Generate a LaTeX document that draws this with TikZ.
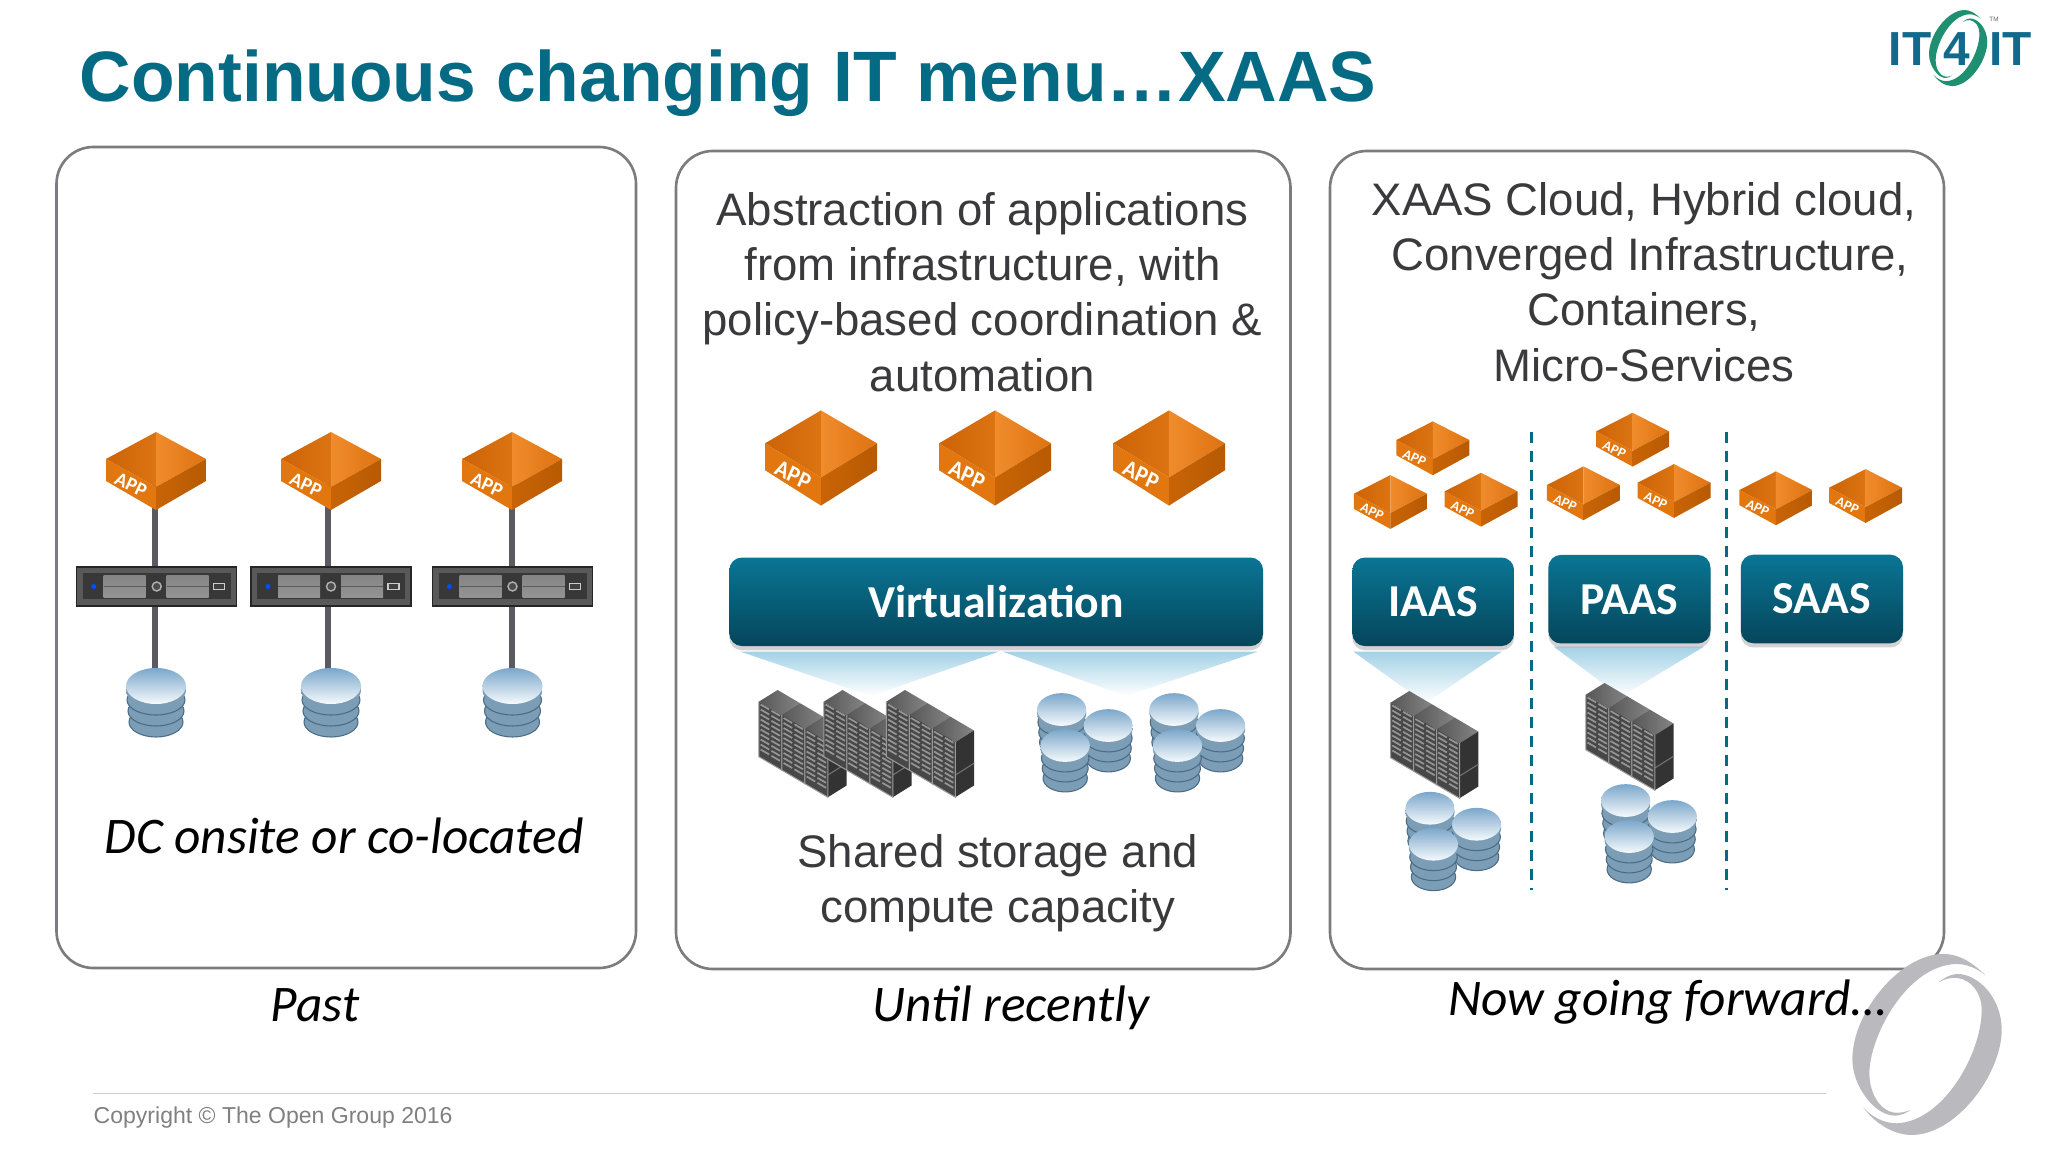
\documentclass[tikz,border=0pt]{standalone}
\usepackage{fontspec}
\setmainfont{Liberation Sans}
\newfontfamily\calfont{Carlito}
\usetikzlibrary{shadows}
\definecolor{titleteal}{HTML}{056A84}
\definecolor{bodygray}{HTML}{3A3A3C}
\definecolor{cardline}{HTML}{7C7C80}
\definecolor{btntop}{HTML}{0A7594}
\definecolor{btnmid}{HTML}{07627E}
\definecolor{btnlow}{HTML}{05465B}
\definecolor{funnelblue}{HTML}{A4D2E6}
\definecolor{stemgray}{HTML}{5A5A60}
\definecolor{logogray}{HTML}{BABABE}
\definecolor{logoblue}{HTML}{11698C}
\definecolor{logogreen}{HTML}{1E8F70}
\definecolor{cubeaa}{HTML}{CC6408}
\definecolor{cubeab}{HTML}{DC7412}
\definecolor{cubeba}{HTML}{F08C2C}
\definecolor{cubebb}{HTML}{DE7212}
\definecolor{cubeleft}{HTML}{E2760F}
\definecolor{cuberighta}{HTML}{C86406}
\definecolor{cuberightb}{HTML}{B85A02}
\definecolor{diskside}{HTML}{7B9DB6}
\definecolor{disklight}{HTML}{C4D8E4}
\definecolor{diskline}{HTML}{4C6B85}
\definecolor{disktop}{HTML}{7BA7CB}
\definecolor{diskmid}{HTML}{C3DBEA}
\definecolor{disklow}{HTML}{F6FAFC}
\tikzset{
	card/.style={draw=cardline, line width=0.75pt, rounded corners=10.5pt, fill=white},
	btn/.style={rounded corners=3.6pt, top color=btntop, middle color=btnmid, bottom color=btnlow, text=white, inner sep=0pt,
		minimum height=0.885cm, font=\calfont\bfseries\fontsize{13}{15}\selectfont,
		drop shadow={shadow xshift=0pt, shadow yshift=-1.2pt, fill=black!35, opacity=0.5}},
	bodytxt/.style={font=\fontsize{12.96}{15.7}\selectfont, text=bodygray, align=center, inner sep=0pt},
	ittxt/.style={anchor=base, font=\calfont\itshape\fontsize{14.6}{16}\selectfont, text=black, inner sep=0pt},
	logotxt/.style={anchor=base, inner sep=0pt, text=logoblue, font=\bfseries\fontsize{13.6}{16}\selectfont},
	stem/.style={draw=stemgray, line width=1.7pt},
	funnel/.style={top color=funnelblue, bottom color=white},
	divider/.style={draw=titleteal, line width=0.8pt, dash pattern=on 3.1pt off 2.3pt},
	server/.style={draw=black!85, line width=0.4pt, fill=black!65, minimum width=1.6cm, minimum height=0.39cm, inner sep=0pt},
	appmid/.style={xscale=1.12, yscale=1.22},
	applow/.style={xscale=0.73, yscale=0.69},
	app/.pic={
		\shade[left color=cubeaa, right color=cubeab] (0,-39) -- (-50,-12) -- (0,16) -- cycle;
		\shade[left color=cubeba, right color=cubebb] (0,-39) -- (50,-12) -- (0,16) -- cycle;
		\fill[cubeleft] (-50,-12) -- (0,16) -- (0,39) -- (-50,10) -- cycle;
		\shade[left color=cuberighta, right color=cuberightb] (50,-12) -- (0,16) -- (0,39) -- (50,10) -- cycle;
		\node[transform shape, rotate=-25, text=white, inner sep=0pt, font=\calfont\bfseries\fontsize{5.6}{6}\selectfont] (-lbl) at (-25,14) {APP};
	},
	srvface/.pic={
		\fill[black!78] (-74,-13) rectangle (74,13);
		\shade[top color=black!48, bottom color=black!42] (-53,-11) rectangle (-11,11);
		\shade[top color=black!48, bottom color=black!42] (10,-11) rectangle (52,11);
		\draw[black!65, line width=0.3pt] (-53,0) -- (-11,0) (10,0) -- (52,0);
		\draw[black!30, fill=black!70, line width=0.4pt] (0,0) circle (4.5);
		\fill[blue!70!cyan] (-63,0) circle (2.5);
		\draw[black!20, fill=black!75, line width=0.4pt] (57,-3) rectangle (68,3);
	},
	disk/.pic={
		\foreach \yy/\rr in {19/27,8/28,-3/29} {
			\shade[draw=diskline, line width=0.3pt, left color=diskside, middle color=disklight, right color=diskside] (0,\yy) ellipse [x radius=\rr, y radius=15];
		}
		\shade[left color=diskside, middle color=disklight, right color=diskside] (0,-13) ellipse [x radius=30, y radius=18];
		\shade[top color=disktop, middle color=diskmid, bottom color=disklow] (0,-17) ellipse [x radius=30, y radius=18];
	},
	diskset/.pic={
		\pic[xscale=0.82, yscale=0.91] at (0,0) {disk};
		\pic[xscale=0.82, yscale=0.91] at (46.6,16) {disk};
		\pic[xscale=0.82, yscale=0.91] at (3.5,36) {disk};
	},
	rack/.pic={
		\shade[left color=black!66, right color=black!48] (0,0) -- (23,13.5) -- (4.3,25.2) -- (-18.7,11.7) -- cycle;
		\fill[black!72] (-18.7,11.7) -- (4.3,25.2) -- (4.3,80.2) -- (-18.7,66.7) -- cycle;
		\fill[black!80] (4.3,25.2) -- (23,13.5) -- (23,68.5) -- (4.3,80.2) -- cycle;
		\draw[black!55, line width=0.3pt] (4.3,58) -- (23,46.3);
		\draw[black!40, line width=0.3pt] (-18.7,11.7) -- (-18.7,66.7) -- (4.3,80.2) -- (4.3,25.2);
		\foreach \rw in {0,...,9} {
			\foreach \cl in {0,1} {
				\draw[black!42, line width=0.5pt] ({-17+\cl*10.8},{14.5+\cl*6.3+\rw*5}) -- ({-17+\cl*10.8+8.6},{14.5+\cl*6.3+\rw*5+5});
			}
		}
	},
	rackrow/.pic={
		\pic at (0,0) {rack};
		\pic at (23,13.5) {rack};
		\pic at (46,27) {rack};
	},
	swirl/.pic={
		\begin{scope}[shift={(-380,-313)}]
			\fill[pic actions] (555,105) .. controls (510,60) and (470,42) .. (430,42) .. controls (300,42) and (155,220) .. (157,360) .. controls (158,440) and (225,528) .. (285,527) .. controls (305,527) and (320,518) .. (332,510) .. controls (315,516) and (300,520) .. (282,518) .. controls (240,512) and (208,460) .. (208,400) .. controls (208,290) and (320,75) .. (470,72) .. controls (500,72) and (530,85) .. (555,105) -- cycle;
			\fill[pic actions] (190,503) .. controls (225,550) and (280,585) .. (335,585) .. controls (470,585) and (605,400) .. (605,270) .. controls (605,170) and (530,100) .. (470,102) .. controls (450,103) and (430,115) .. (415,128) .. controls (430,118) and (450,112) .. (472,114) .. controls (515,120) and (545,160) .. (545,210) .. controls (545,340) and (430,545) .. (290,550) .. controls (250,550) and (215,530) .. (190,503) -- cycle;
		\end{scope}
	},
}
\begin{document}
\begin{tikzpicture}[x=0.01cm, y=-0.01cm]
	\useasboundingbox (0,0) rectangle (2048,1152);
	\fill[white] (0,0) rectangle (2048,1152);

	\node[anchor=base west, inner sep=0pt, text=titleteal, font=\bfseries\fontsize{20.3}{24}\selectfont] (title) at (79,102) {Continuous changing IT menu…XAAS};

	\pic[xscale=0.13, yscale=0.14, fill=logogreen] at (1958,48) {swirl};
	\node[logotxt] (logoa) at (1910,65.7) {IT};
	\node[logotxt] (logob) at (1956.7,65.7) {4};
	\node[logotxt] (logoc) at (2010.7,65.7) {IT};
	\node[inner sep=0pt, text=black!60, font=\fontsize{1.8}{2}\selectfont] (logotm) at (1994,19) {TM};

	\draw[card] (56.5,147) rectangle (636,968);
	\draw[card] (676,151) rectangle (1290.5,969);
	\draw[card] (1330,151) rectangle (1944,969);

	\node[bodytxt] (abstr) at (982.5,292) {Abstraction of applications\\from infrastructure, with\\policy-based coordination \&\\automation};
	\node[bodytxt] (xaas) at (1644,282) {XAAS Cloud, Hybrid cloud,\\\hspace*{0.118cm}Converged Infrastructure,\\Containers,\\Micro-Services};
	\node[bodytxt] (shared) at (997.7,883.5) {Shared storage and\\compute capacity};

	\node[ittxt] (dc) at (344,853) {DC onsite or co-located};
	\node[ittxt] (past) at (315,1021) {Past};
	\node[ittxt] (until) at (1011,1021) {Until recently};

	\coordinate (app1) at (155,471);
	\coordinate (app2) at (328.4,471);
	\coordinate (app3) at (511.7,471);
	\coordinate (db1) at (155,703);
	\coordinate (db2) at (328.4,703);
	\coordinate (db3) at (511.7,703);
	\node[server] (srv1) at (156.7,586.5) {};
	\node[server] (srv2) at (331,586.5) {};
	\node[server] (srv3) at (512.5,586.5) {};
	\foreach \i in {1,2,3} {
		\draw[stem] (app\i) -- (srv\i.north -| app\i);
		\draw[stem] (srv\i.south -| app\i) -- (db\i);
		\pic at (srv\i) {srvface};
	}
	\pic at (156,471) {app};
	\pic at (331,471) {app};
	\pic at (512,471) {app};
	\pic at (156,703) {disk};
	\pic at (331,703) {disk};
	\pic at (512.5,703) {disk};

	\pic[appmid] at (821,458) {app};
	\pic[appmid] at (995,458) {app};
	\pic[appmid] at (1169,458) {app};

	\shade[funnel] (740.6,651.7) -- (998.7,651.7) -- (871,696) -- cycle;
	\shade[funnel] (1002.7,651.7) -- (1257.7,651.7) -- (1126,696) -- cycle;
	\node[btn, minimum width=5.335cm] (virt) at (996.2,601.8) {Virtualization};
	\pic at (777.6,690) {rackrow};
	\pic at (842.5,690) {rackrow};
	\pic at (905,690) {rackrow};
	\pic at (1061.7,725) {diskset};
	\pic at (1174,725) {diskset};

	\draw[divider] (1531.8,432) -- (1531.8,890);
	\draw[divider] (1726.6,432) -- (1726.6,890);

	\foreach \ax/\ay in {1432.8/448.3,1390.4/502,1481/499.7,1632.6/439.7,1583.4/493.3,1674/491,1775.9/498.3,1865.6/496} {
		\pic[applow] at (\ax,\ay) {app};
	}

	\shade[funnel] (1353.5,651.7) -- (1501.7,651.7) -- (1425.3,703.3) -- cycle;
	\shade[funnel] (1553.7,646.7) -- (1703.9,646.7) -- (1621,696.7) -- cycle;
	\node[btn, minimum width=1.617cm] (iaas) at (1433.2,601.8) {IAAS};
	\node[btn, minimum width=1.621cm] (paas) at (1629.4,599.2) {PAAS};
	\node[btn, minimum width=1.622cm] (saas) at (1821.9,599) {SAAS};
	\pic at (1409.3,691) {rackrow};
	\pic at (1604.5,683) {rackrow};
	\pic at (1430,823.7) {diskset};
	\pic at (1625.7,816) {diskset};

	\draw[black!20, line width=0.4pt] (93,1093.6) -- (1826,1093.6);
	\node[anchor=west, inner sep=0pt, text=black!50, font=\fontsize{6.55}{8}\selectfont] (copy) at (93,1118) {Copyright © The Open Group 2016};

	\pic[scale=0.3333, fill=logogray] at (1926.7,1044.3) {swirl};
	\node[ittxt] (now) at (1667.5,1015) {Now going forward…};
\end{tikzpicture}
\end{document}
